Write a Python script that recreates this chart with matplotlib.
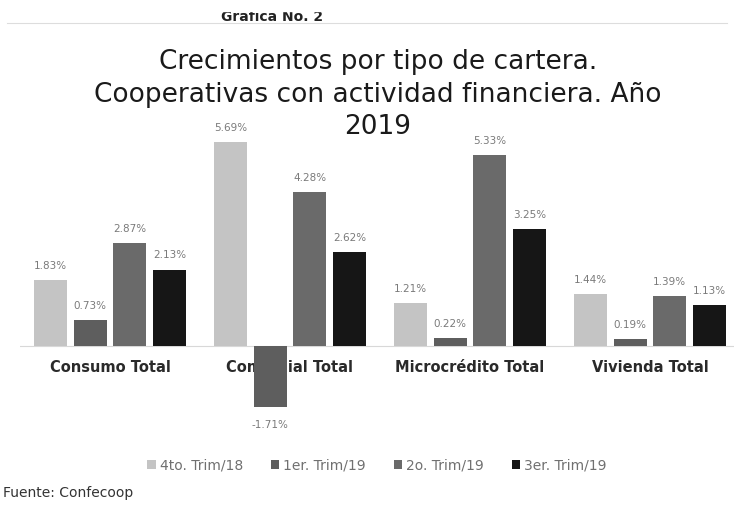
import numpy as np
import matplotlib.pyplot as plt

plt.rcParams['font.family'] = ['DejaVu Sans']

# datos
categorias = ["Consumo Total", "Comercial Total", "Microcrédito Total", "Vivienda Total"]
series = ["4to. Trim/18", "1er. Trim/19", "2o. Trim/19", "3er. Trim/19"]
trim4_18 = [1.83, 5.69, 1.21, 1.44]
trim1_19 = [0.73, -1.71, 0.22, 0.19]
trim2_19 = [2.87, 4.28, 5.33, 1.39]
trim3_19 = [2.13, 2.62, 3.25, 1.13]
valores = [trim4_18, trim1_19, trim2_19, trim3_19]
colores = ["#c4c4c4", "#5e5e5e", "#6a6a6a", "#161616"]
titulo = ["Crecimientos por tipo de cartera.",
          "Cooperativas con actividad financiera. Año",
          "2019"]

fig = plt.figure(figsize=(7.34, 5.06), dpi=100)
ax = fig.add_axes([20 / 734, 0.158, 714 / 734, 0.582])

x = np.arange(len(categorias))
ancho = 0.183
paso = 0.22

for i, (serie, vals) in enumerate(zip(series, valores)):
    pos = x + (i - 1.5) * paso
    barras = ax.bar(pos, vals, ancho, color=colores[i], label=serie, zorder=3)
    for b, v in zip(barras, vals):
        if v >= 0:
            ax.text(b.get_x() + b.get_width() / 2, v + 0.42, f"{v:.2f}%",
                    ha="center", va="center", fontsize=7.5, color="#7a7a7a")
        else:
            ax.text(b.get_x() + b.get_width() / 2, v - 0.45, f"{v:.2f}%",
                    ha="center", va="center", fontsize=7.5, color="#7a7a7a")

# etiquetas de categoria debajo de la linea base
for xi, cat in zip(x, categorias):
    ax.text(xi, -0.58, cat, ha="center", va="center", fontsize=10.5,
            fontweight="bold", color="#2a2a2a", zorder=2)

ax.axhline(0, color="#d8d8d8", lw=0.8, zorder=1)
ax.set_xlim(-0.5, -0.5 + 714 / 180)
ax.set_ylim(-2.2, 6.0)
ax.axis("off")

# titulo en tres lineas
for linea, yy in zip(titulo, [62, 95, 127]):
    fig.text(0.515, 1 - yy / 506, linea, ha="center", va="center",
             fontsize=19, color="#1a1a1a")

# encabezado cortado del documento escaneado
fig.text(272 / 734, 1 - 21 / 506, "Grafica No. 2", ha="center", va="baseline",
         fontsize=10, fontweight="bold", color="#222222")
fig.add_artist(plt.Rectangle((0, 1 - 12 / 506), 1, 12 / 506,
                             transform=fig.transFigure, color="white", zorder=5))
fig.add_artist(plt.Line2D([0.01, 0.99], [1 - 24 / 506, 1 - 24 / 506],
                          color="#dddddd", lw=0.8))

ax.legend(loc="center", bbox_to_anchor=(377 / 734, 1 - 466 / 506),
          bbox_transform=fig.transFigure, ncol=4, frameon=False,
          fontsize=10, handlelength=0.6, handleheight=0.6, handletextpad=0.3,
          columnspacing=2.0, labelcolor="#707070")

fig.text(3 / 734, 1 - 493 / 506, "Fuente: Confecoop", ha="left", va="center",
         fontsize=10, color="#333333")

fig.savefig("out.png", dpi=100)
